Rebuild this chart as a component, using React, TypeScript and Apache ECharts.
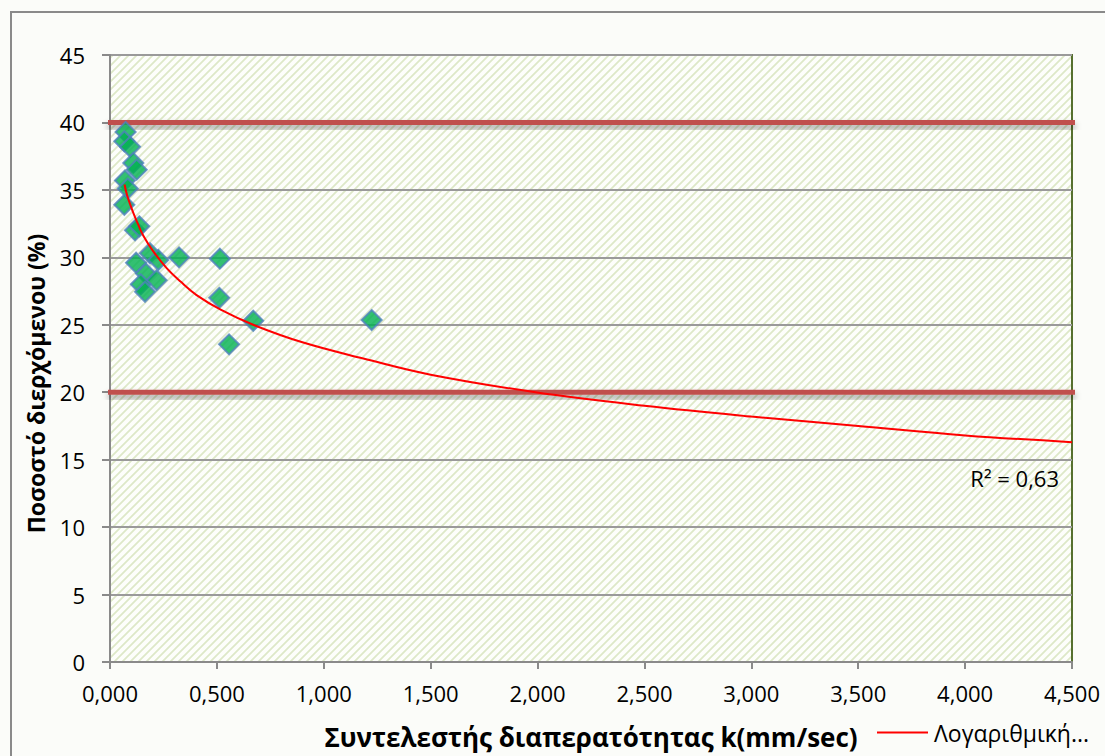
import { useEffect, useRef } from "react";
import * as echarts from "echarts";

// Measured samples: permeability coefficient k (mm/sec) and percent passing (%)
const PERMEABILITY = [
  0.073, 0.067, 0.094, 0.109, 0.125, 0.07, 0.083, 0.067, 0.117, 0.137, 0.122,
  0.187, 0.226, 0.323, 0.514, 0.168, 0.218, 0.144, 0.164, 0.511, 0.67, 1.224,
  0.557,
];
const PASSING = [
  39.3, 38.6, 38.2, 37.0, 36.5, 35.7, 35.1, 33.9, 32.0, 32.3, 29.6, 30.3, 29.8,
  30.0, 29.9, 28.8, 28.3, 28.0, 27.45, 27.0, 25.3, 25.35, 23.55,
];

// Logarithmic trend line, sampled along its course
const TREND_K = [
  0.068, 0.08, 0.095, 0.109, 0.13, 0.156, 0.2, 0.265, 0.33, 0.405, 0.52, 0.67,
  0.9, 1.185, 1.5, 1.99, 2.5, 3.0, 3.5, 4.0, 4.5,
];
const TREND_P = [
  35.4, 34.6, 33.9, 33.3, 32.5, 31.6, 30.5, 29.2, 28.2, 27.2, 26.1, 25.0, 23.7,
  22.5, 21.3, 20.0, 19.0, 18.2, 17.5, 16.8, 16.3,
];
const TREND_NAME = "Λογαριθμική...";
const R_SQUARED = 0.63;

// Specification limits (%)
const LIMITS = [40, 20];

const FONT = "'Open Sans', 'Noto Sans', sans-serif";

function hatchTile(): string {
  const c = document.createElement("canvas");
  c.width = 8;
  c.height = 8;
  const ctx = c.getContext("2d")!;
  ctx.fillStyle = "#fdfefb";
  ctx.fillRect(0, 0, 8, 8);
  ctx.strokeStyle = "#dde8c8";
  ctx.lineWidth = 1.8;
  ctx.beginPath();
  ctx.moveTo(-1, 9);
  ctx.lineTo(9, -1);
  ctx.moveTo(-5, 5);
  ctx.lineTo(5, -5);
  ctx.moveTo(3, 13);
  ctx.lineTo(13, 3);
  ctx.stroke();
  return c.toDataURL();
}

export default function App() {
  const ref = useRef<HTMLDivElement>(null);

  useEffect(() => {
    document.body.style.margin = "0";
    if (!ref.current) return;
    const chart = echarts.init(ref.current, undefined, { renderer: "svg" });

    const points = PERMEABILITY.map((k, i) => [k, PASSING[i]]);
    const trend = TREND_K.map((k, i) => [k, TREND_P[i]]);

    chart.setOption({
      animation: false,
      backgroundColor: "#fbfcf9",
      textStyle: { fontFamily: FONT },
      grid: {
        left: 110,
        right: 33,
        top: 55,
        bottom: 94,
        show: true,
        backgroundColor: {
          image: hatchTile(),
          imageWidth: 8,
          imageHeight: 8,
          repeat: "repeat",
        },
        borderColor: "#56702f",
        borderWidth: 2,
      },
      graphic: [
        {
          type: "rect",
          z: -10,
          shape: { x: 11, y: 12, width: 1200, height: 800 },
          style: { fill: "none", stroke: "#8a8a8a", lineWidth: 2 },
        },
        {
          type: "text",
          z: 10,
          style: {
            text: `R² = ${R_SQUARED.toFixed(2).replace(".", ",")}`,
            x: 1059,
            y: 478,
            align: "right",
            verticalAlign: "middle",
            fontSize: 22,
            fontFamily: FONT,
            fill: "#000",
          },
        },
      ],
      legend: {
        data: [TREND_NAME],
        left: 877,
        top: 721,
        padding: 0,
        icon: "path://M0,0H51V2H0Z",
        itemWidth: 51,
        itemHeight: 2,
        itemGap: 6,
        textStyle: { fontSize: 23, color: "#000", fontFamily: FONT, padding: [0, 0, 0, 1] },
      },
      xAxis: {
        type: "value",
        min: 0,
        max: 4.5,
        interval: 0.5,
        name: "Συντελεστής διαπερατότητας k(mm/sec)",
        nameLocation: "middle",
        nameGap: 62,
        nameTextStyle: { fontSize: 26, fontWeight: "bold", color: "#000", fontFamily: FONT },
        axisLine: { show: true, onZero: false, lineStyle: { color: "#8a8a8a", width: 2 } },
        axisTick: { show: true, length: 7, lineStyle: { color: "#8a8a8a", width: 2 } },
        axisLabel: {
          margin: 20,
          fontSize: 22,
          color: "#000",
          fontFamily: FONT,
          formatter: (v: number) => v.toFixed(3).replace(".", ","),
        },
        splitLine: { show: false },
      },
      yAxis: {
        type: "value",
        min: 0,
        max: 45,
        interval: 5,
        name: "Ποσοστό διερχόμενου (%)",
        nameLocation: "middle",
        nameGap: 63,
        nameTextStyle: {
          fontSize: 23,
          fontWeight: "bold",
          color: "#000",
          fontFamily: FONT,
          padding: [0, 50, 0, 0],
        },
        axisLine: { show: true, lineStyle: { color: "#8a8a8a", width: 2 } },
        axisTick: { show: true, length: 8, lineStyle: { color: "#8a8a8a", width: 2 } },
        axisLabel: { margin: 25, fontSize: 22, color: "#000", fontFamily: FONT },
        splitLine: { show: true, lineStyle: { color: "#9a9a9a", width: 2 } },
      },
      series: [
        {
          // limit lines, drawn as thin bars with a soft drop shadow
          type: "custom",
          name: "limits",
          data: LIMITS.map((v) => [v]),
          z: 3,
          silent: true,
          clip: false,
          renderItem: (params: any, api: any) => {
            const cs = params.coordSys;
            const y = api.coord([0, api.value(0)])[1];
            return {
              type: "rect",
              shape: { x: cs.x - 2, y: y - 2.5, width: cs.width + 5, height: 5 },
              style: {
                fill: "#c0504d",
                shadowColor: "rgba(0,0,0,0.4)",
                shadowBlur: 6,
                shadowOffsetY: 4,
              },
            };
          },
        },
        {
          type: "scatter",
          name: "Δείγματα",
          data: points,
          symbol: "diamond",
          symbolSize: 20,
          z: 4,
          itemStyle: { color: "#00b050", borderColor: "#4f81bd", borderWidth: 2 },
        },
        {
          type: "line",
          name: TREND_NAME,
          data: trend,
          symbol: "none",
          smooth: 0.4,
          z: 5,
          lineStyle: { color: "#ff0000", width: 2 },
          itemStyle: { color: "#ff0000" },
        },
      ],
    });

    return () => chart.dispose();
  }, []);

  return <div ref={ref} style={{ width: 1105, height: 756 }} />;
}
